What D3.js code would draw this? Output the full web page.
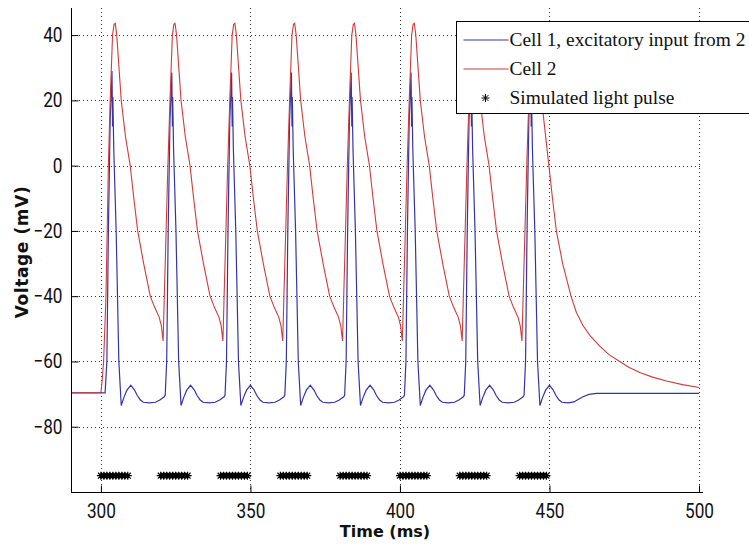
<!DOCTYPE html>
<html>
<head>
<meta charset="utf-8">
<script src="https://cdnjs.cloudflare.com/ajax/libs/d3/7.8.5/d3.min.js"></script>
<style>
  body { margin: 0; background: #fff; }
  svg { display: block; }
  .tick-label { font-family: Roboto, "Liberation Sans", sans-serif; font-size: 20px; fill: #111; }
  .axis-title { font-family: "DejaVu Sans", sans-serif; font-weight: bold; font-size: 16px; fill: #111; }
  .legend-text { font-family: "Liberation Serif", "DejaVu Serif", serif; font-size: 19.4px; fill: #111; }
  .grid line { stroke: #333; stroke-width: 1; stroke-dasharray: 1,3; }
</style>
</head>
<body>
<div id="chart"></div>
<script>
(function(){

  // ticks
  var xTicks = [300, 350, 400, 450, 500]
  var yTicks = [-80, -60, -40, -20, 0, 20, 40]

  // series names
  var seriesNames = ["Cell 1, excitatory input from 2", "Cell 2", "Simulated light pulse"]

  // Cell 1 voltage [time ms, mV]
  var cell1 = [
    [290,-69.6],[301.4,-69.6],[302.0,-60],[302.5,-20],[303.1,14],[303.7,29],[303.9,12],[304.0,21],[304.3,5],[305.1,-20],[306.0,-60],[306.8,-73.5],
    [307.7,-71],[308.7,-68.8],[310.0,-67.3],[311.2,-68.7],[312.2,-70.5],[313.2,-71.8],[314.2,-72.5],[316.2,-72.7],[318.2,-72.5],[319.7,-71.8],[321.2,-70.8],[321.5,-70.4],
    [322.0,-60],[322.5,-20],[323.1,14],[323.7,28.5],[323.9,12],[324.0,21],[324.3,5],[325.1,-20],[326.0,-60],[326.8,-73.5],
    [327.7,-71],[328.7,-68.8],[330.0,-67.3],[331.2,-68.7],[332.2,-70.5],[333.2,-71.8],[334.2,-72.5],[336.2,-72.7],[338.2,-72.5],[339.7,-71.8],[341.2,-70.8],[341.5,-70.4],
    [342.0,-60],[342.5,-20],[343.1,14],[343.7,28.5],[343.9,12],[344.0,21],[344.3,5],[345.1,-20],[346.0,-60],[346.8,-73.5],
    [347.7,-71],[348.7,-68.8],[350.0,-67.3],[351.2,-68.7],[352.2,-70.5],[353.2,-71.8],[354.2,-72.5],[356.2,-72.7],[358.2,-72.5],[359.7,-71.8],[361.2,-70.8],[361.5,-70.4],
    [362.0,-60],[362.5,-20],[363.1,14],[363.7,28.5],[363.9,12],[364.0,21],[364.3,5],[365.1,-20],[366.0,-60],[366.8,-73.5],
    [367.7,-71],[368.7,-68.8],[370.0,-67.3],[371.2,-68.7],[372.2,-70.5],[373.2,-71.8],[374.2,-72.5],[376.2,-72.7],[378.2,-72.5],[379.7,-71.8],[381.2,-70.8],[381.5,-70.4],
    [382.0,-60],[382.5,-20],[383.1,14],[383.7,28.5],[383.9,12],[384.0,21],[384.3,5],[385.1,-20],[386.0,-60],[386.8,-73.5],
    [387.7,-71],[388.7,-68.8],[390.0,-67.3],[391.2,-68.7],[392.2,-70.5],[393.2,-71.8],[394.2,-72.5],[396.2,-72.7],[398.2,-72.5],[399.7,-71.8],[401.2,-70.8],[401.5,-70.4],
    [402.0,-60],[402.5,-20],[403.1,14],[403.7,28.5],[403.9,12],[404.0,21],[404.3,5],[405.1,-20],[406.0,-60],[406.8,-73.5],
    [407.7,-71],[408.7,-68.8],[410.0,-67.3],[411.2,-68.7],[412.2,-70.5],[413.2,-71.8],[414.2,-72.5],[416.2,-72.7],[418.2,-72.5],[419.7,-71.8],[421.2,-70.8],[421.5,-70.4],
    [422.0,-60],[422.5,-20],[423.1,14],[423.7,28.5],[423.9,12],[424.0,21],[424.3,5],[425.1,-20],[426.0,-60],[426.8,-73.5],
    [427.7,-71],[428.7,-68.8],[430.0,-67.3],[431.2,-68.7],[432.2,-70.5],[433.2,-71.8],[434.2,-72.5],[436.2,-72.7],[438.2,-72.5],[439.7,-71.8],[441.2,-70.8],[441.5,-70.4],
    [442.0,-60],[442.5,-20],[443.1,14],[443.7,28.5],[443.9,12],[444.0,21],[444.3,5],[445.1,-20],[446.0,-60],[446.8,-73.5],
    [447.7,-71],[448.7,-68.8],[450.0,-67.3],[451.2,-68.7],[452.2,-70.5],[453.2,-71.8],[454.2,-72.5],[456.2,-72.7],[458.2,-72.4],[459.7,-71.6],[461.2,-70.8],[463.2,-70.1],[465.7,-69.8],[500,-69.8]
  ]

  // Cell 2 voltage [time ms, mV]
  var cell2 = [
    [290,-69.6],[300.0,-69.6],[300.4,-66],[300.9,-60],[301.7,-40],[302.5,0],[303.1,20],[303.9,40],[304.4,43.3],[304.8,43.6],[305.3,40],[306.8,20],[308.2,9],[309.8,0],[311.0,-10],[312.3,-20],[314.3,-30],[316.5,-40],[318.0,-43.5],[319.5,-46.5],[320.2,-49],[320.8,-53.7],
    [321.2,-40],[321.8,-20],[322.4,0],[323.1,20],[323.9,40],[324.4,43.3],[324.8,43.6],[325.3,40],[326.8,20],[328.2,9],[329.8,0],[331.0,-10],[332.3,-20],[334.3,-30],[336.5,-40],[338.0,-43.5],[339.5,-46.5],[340.2,-49],[340.8,-53.7],
    [341.2,-40],[341.8,-20],[342.4,0],[343.1,20],[343.9,40],[344.4,43.3],[344.8,43.6],[345.3,40],[346.8,20],[348.2,9],[349.8,0],[351.0,-10],[352.3,-20],[354.3,-30],[356.5,-40],[358.0,-43.5],[359.5,-46.5],[360.2,-49],[360.8,-53.7],
    [361.2,-40],[361.8,-20],[362.4,0],[363.1,20],[363.9,40],[364.4,43.3],[364.8,43.6],[365.3,40],[366.8,20],[368.2,9],[369.8,0],[371.0,-10],[372.3,-20],[374.3,-30],[376.5,-40],[378.0,-43.5],[379.5,-46.5],[380.2,-49],[380.8,-53.7],
    [381.2,-40],[381.8,-20],[382.4,0],[383.1,20],[383.9,40],[384.4,43.3],[384.8,43.6],[385.3,40],[386.8,20],[388.2,9],[389.8,0],[391.0,-10],[392.3,-20],[394.3,-30],[396.5,-40],[398.0,-43.5],[399.5,-46.5],[400.2,-49],[400.8,-53.7],
    [401.2,-40],[401.8,-20],[402.4,0],[403.1,20],[403.9,40],[404.4,43.3],[404.8,43.6],[405.3,40],[406.8,20],[408.2,9],[409.8,0],[411.0,-10],[412.3,-20],[414.3,-30],[416.5,-40],[418.0,-43.5],[419.5,-46.5],[420.2,-49],[420.8,-53.7],
    [421.2,-40],[421.8,-20],[422.4,0],[423.1,20],[423.9,40],[424.4,43.3],[424.8,43.6],[425.3,40],[426.8,20],[428.2,9],[429.8,0],[431.0,-10],[432.3,-20],[434.3,-30],[436.5,-40],[438.0,-43.5],[439.5,-46.5],[440.2,-49],[440.8,-53.7],
    [441.2,-40],[441.8,-20],[442.4,0],[443.1,20],[443.9,40],[444.4,43.3],[444.8,43.6],[445.3,40],[446.8,22],[447.9,15.7],[449.8,0],[451.0,-10],[452.3,-20],[454.4,-30],[457.2,-40],[459.0,-45],[461.2,-49],[463.5,-52],[466.8,-55.3],[470.0,-58],[473.5,-60],[476.5,-61.8],[480.2,-63.4],[484.5,-64.8],[489.1,-66],[494.5,-67.1],[500,-68]
  ]

  // light pulse times (ms), drawn at -95 mV
  var pulseTimes = [
    300,301,302,303,304,305,306,307,308,309,
    320,321,322,323,324,325,326,327,328,329,
    340,341,342,343,344,345,346,347,348,349,
    360,361,362,363,364,365,366,367,368,369,
    380,381,382,383,384,385,386,387,388,389,
    400,401,402,403,404,405,406,407,408,409,
    420,421,422,423,424,425,426,427,428,429,
    440,441,442,443,444,445,446,447,448,449
  ]
  var pulseLevel = -95

  var width = 749,
    height = 547

  var margin = {left: 71, right: 50, top: 8, bottom: 55}

  var blue = "#3535a8",
    red = "#d03c3c"

  var svg = d3.select("#chart")
    .append("svg")
    .attr("width", width)
    .attr("height", height)

  var x = d3.scaleLinear().domain([290, 500]).range([margin.left, width - margin.right])
  var y = d3.scaleLinear().domain([-100, 48.3]).range([height - margin.bottom, margin.top])

  // dotted grid
  var grid = svg.append("g").attr("class", "grid")

  grid.selectAll(".vgrid")
    .data(xTicks).enter()
    .append("line")
    .attr("x1", function(d) { return Math.round(x(d)) + 0.5 })
    .attr("x2", function(d) { return Math.round(x(d)) + 0.5 })
    .attr("y1", y.range()[1])
    .attr("y2", y.range()[0])

  grid.selectAll(".hgrid")
    .data(yTicks).enter()
    .append("line")
    .attr("x1", x.range()[0])
    .attr("x2", x.range()[1] + 3)
    .attr("y1", function(d) { return Math.round(y(d)) + 0.5 })
    .attr("y2", function(d) { return Math.round(y(d)) + 0.5 })

  // lines
  var line = d3.line()
    .x(function(d) { return x(d[0]) })
    .y(function(d) { return y(d[1]) })

  svg.append("path")
    .datum(cell1)
    .attr("d", line)
    .attr("fill", "none")
    .attr("stroke", blue)
    .attr("stroke-width", 1.2)

  svg.append("path")
    .datum(cell2)
    .attr("d", line)
    .attr("fill", "none")
    .attr("stroke", red)
    .attr("stroke-width", 1.1)

  // asterisk marker like matlab '*'
  var star = "M-4,0H4M0,-4V4M-2.9,-2.9L2.9,2.9M-2.9,2.9L2.9,-2.9"

  svg.append("g")
    .selectAll("path")
    .data(pulseTimes).enter()
    .append("path")
    .attr("d", star)
    .attr("transform", function(d) { return "translate(" + x(d) + "," + y(pulseLevel) + ")" })
    .attr("stroke", "#000")
    .attr("stroke-width", 1.2)
    .attr("fill", "none")

  // axes: inward ticks
  var xAxis = svg.append("g")
    .attr("transform", "translate(0," + (y.range()[0] + 0.5) + ")")
    .call(d3.axisBottom(x).tickValues(xTicks).tickSizeInner(-7).tickSizeOuter(0).tickPadding(11))
  xAxis.select(".domain").attr("d", "M" + x.range()[0] + ",0H" + (x.range()[1] + 4))
  xAxis.selectAll("text").attr("class", "tick-label").attr("fill", null)

  var yAxis = svg.append("g")
    .attr("transform", "translate(" + (x.range()[0] + 0.5) + ",0)")
    .call(d3.axisLeft(y).tickValues(yTicks).tickSizeInner(-7).tickSizeOuter(0).tickPadding(9))
  yAxis.select(".domain").attr("d", "M0," + y.range()[1] + "V" + y.range()[0])
  yAxis.selectAll("text").attr("class", "tick-label").attr("fill", null)

  svg.selectAll(".domain, .tick line").attr("stroke", "#000")

  // squeeze tick labels a bit, the original font is a narrow one
  svg.selectAll(".tick-label").each(function() {
    var w = this.getComputedTextLength()
    d3.select(this).attr("textLength", w * 0.86).attr("lengthAdjust", "spacingAndGlyphs")
  })

  // axis titles
  svg.append("text")
    .attr("class", "axis-title")
    .attr("x", (x.range()[0] + x.range()[1]) / 2)
    .attr("y", 537)
    .attr("text-anchor", "middle")
    .text("Time (ms)")

  svg.append("text")
    .attr("class", "axis-title")
    .attr("transform", "translate(28," + ((y.range()[0] + y.range()[1]) / 2 + 2) + ") rotate(-90)")
    .attr("text-anchor", "middle")
    .style("font-size", "17px")
    .style("letter-spacing", "0.6px")
    .text("Voltage (mV)")

  // legend
  var legend = svg.append("g")
    .attr("transform", "translate(456.5,21.5)")

  legend.append("rect")
    .attr("width", 330)
    .attr("height", 92)
    .attr("fill", "#fff")
    .attr("stroke", "#000")

  var rows = legend.selectAll(".row")
    .data(seriesNames).enter()
    .append("g")
    .attr("transform", function(d, i) { return "translate(0," + (18.5 + i * 29) + ")" })

  rows.filter(function(d, i) { return i < 2 })
    .append("line")
    .attr("x1", 7)
    .attr("x2", 52)
    .attr("stroke", function(d, i) { return i === 0 ? blue : red })
    .attr("stroke-width", 1.2)

  rows.filter(function(d, i) { return i === 2 })
    .append("path")
    .attr("d", star)
    .attr("transform", "translate(29,0)")
    .attr("stroke", "#000")
    .attr("fill", "none")

  rows.append("text")
    .attr("class", "legend-text")
    .attr("x", 53)
    .attr("y", 6)
    .text(function(d) { return d })

})();
</script>
</body>
</html>
